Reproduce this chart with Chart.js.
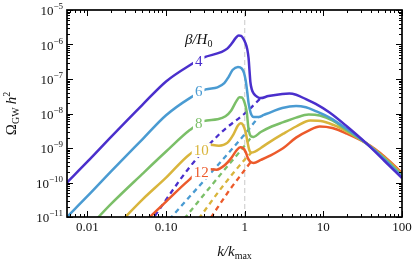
<!DOCTYPE html>
<html>
<head>
<meta charset="utf-8">
<script src="https://cdn.jsdelivr.net/npm/chart.js@4.4.1/dist/chart.umd.min.js"></script>
<style>
  html, body { margin: 0; padding: 0; background: #fff; }
</style>
</head>
<body>
<canvas id="gwChart" width="415" height="262"></canvas>
<script>
// values: k/k_max and Omega_GW h^2
const betaLabels = ['4', '6', '8', '10', '12'];
const lineColors = ['#4a2fcc', '#4a9bd2', '#7bbf68', '#d9b53c', '#ec5a2b'];

// solid curves (full spectrum)
const kBeta4 = [0.0055, 0.01, 0.02, 0.05, 0.1, 0.2, 0.3, 0.5, 0.6, 0.68, 0.77, 0.84, 0.9, 0.96, 1.02, 1.08, 1.12, 1.15, 1.18, 1.23, 1.3, 1.45, 1.6, 2.0, 3.0, 3.7, 4.5, 6, 8, 12, 20, 35, 60, 100];
const omegaBeta4 = [1.0e-10, 4.0e-10, 2.1e-9, 1.78e-8, 8.5e-8, 2.5e-7, 4.2e-7, 6.0e-7, 7.6e-7, 1.05e-6, 1.55e-6, 1.82e-6, 1.78e-6, 1.48e-6, 1.12e-6, 7.1e-7, 4.0e-7, 1.78e-7, 8.3e-8, 5.0e-8, 3.8e-8, 3.0e-8, 2.8e-8, 3.2e-8, 3.7e-8, 3.8e-8, 3.5e-8, 2.6e-8, 1.9e-8, 1.07e-8, 4.2e-9, 1.38e-9, 4.2e-10, 1.35e-10];

const kBeta6 = [0.0055, 0.01, 0.02, 0.05, 0.1, 0.2, 0.32, 0.45, 0.55, 0.62, 0.7, 0.82, 0.92, 0.98, 1.03, 1.08, 1.12, 1.19, 1.3, 1.5, 1.75, 2.2, 3.0, 4.5, 6, 8, 12, 20, 35, 60, 100];
const omegaBeta6 = [1.0e-11, 4.0e-11, 2.1e-10, 1.78e-9, 8.9e-9, 2.8e-8, 5.0e-8, 5.75e-8, 7.6e-8, 1.12e-7, 1.82e-7, 2.24e-7, 2.0e-7, 1.51e-7, 8.9e-8, 4.0e-8, 2.0e-8, 1.05e-8, 7.9e-9, 7.9e-9, 9.1e-9, 1.12e-8, 1.45e-8, 1.66e-8, 1.51e-8, 1.17e-8, 7.6e-9, 3.55e-9, 1.38e-9, 4.7e-10, 1.48e-10];

const kBeta8 = [0.012, 0.02, 0.05, 0.1, 0.2, 0.3, 0.45, 0.57, 0.67, 0.78, 0.86, 0.92, 1.0, 1.06, 1.12, 1.2, 1.3, 1.6, 2.2, 3.1, 4.5, 6.5, 9, 13, 20, 35, 60, 100];
const omegaBeta8 = [7.1e-12, 2.4e-11, 1.78e-10, 7.9e-10, 3.3e-9, 6.0e-9, 6.8e-9, 8.3e-9, 1.2e-8, 2.24e-8, 2.95e-8, 2.9e-8, 2.0e-8, 1.12e-8, 3.5e-9, 2.2e-9, 2.1e-9, 2.9e-9, 4.2e-9, 5.6e-9, 7.6e-9, 9.3e-9, 8.7e-9, 6.3e-9, 3.2e-9, 1.38e-9, 5.0e-10, 1.62e-10];

const kBeta10 = [0.027, 0.05, 0.1, 0.195, 0.33, 0.47, 0.6, 0.72, 0.82, 0.89, 0.95, 1.03, 1.09, 1.14, 1.22, 1.35, 1.6, 2.0, 3.1, 4.5, 6.8, 10, 15, 20, 35, 60, 100];
const omegaBeta10 = [7.6e-12, 3.2e-11, 1.38e-10, 6.3e-10, 1.26e-9, 1.17e-9, 1.41e-9, 2.5e-9, 4.5e-9, 5.2e-9, 4.7e-9, 2.8e-9, 1.41e-9, 8.9e-10, 7.4e-10, 7.9e-10, 1.0e-9, 1.41e-9, 2.6e-9, 4.2e-9, 6.3e-9, 5.9e-9, 4.2e-9, 3.0e-9, 1.38e-9, 5.2e-10, 1.74e-10];

const kBeta12 = [0.056, 0.1, 0.195, 0.3, 0.44, 0.56, 0.67, 0.78, 0.88, 0.95, 1.03, 1.1, 1.19, 1.3, 1.6, 2.1, 3.1, 4.5, 6.5, 9, 13, 20, 35, 60, 100];
const omegaBeta12 = [7.9e-12, 2.8e-11, 1.17e-10, 2.5e-10, 2.35e-10, 3.2e-10, 5.0e-10, 8.3e-10, 1.05e-9, 1.0e-9, 7.6e-10, 5.0e-10, 3.9e-10, 3.7e-10, 4.5e-10, 6.0e-10, 1.0e-9, 2.0e-9, 3.2e-9, 4.2e-9, 3.8e-9, 2.6e-9, 1.38e-9, 5.6e-10, 1.9e-10];

// dashed curves (power-law part)
const kDash4 = [0.062, 0.2, 0.5, 1.0, 1.6];
const omegaDash4 = [6.6e-12, 2.8e-10, 2.8e-9, 1.0e-8, 2.8e-8];
const kDash6 = [0.11, 0.316, 1.0, 1.5];
const omegaDash6 = [8.5e-12, 1.26e-10, 2.5e-9, 7.9e-9];
const kDash8 = [0.17, 0.5, 1.0, 1.22];
const omegaDash8 = [8.9e-12, 1.78e-10, 1.17e-9, 2.1e-9];
const kDash10 = [0.26, 0.55, 1.0, 1.22];
const omegaDash10 = [8.9e-12, 8.9e-11, 4.6e-10, 7.4e-10];
const kDash12 = [0.37, 0.65, 1.0, 1.19];
const omegaDash12 = [9.5e-12, 6.3e-11, 2.3e-10, 3.9e-10];

// where the beta/H0 numbers sit on their curves
const labelK = [0.26, 0.26, 0.26, 0.28, 0.28];
const labelOmega = [3.3e-7, 4.5e-8, 5.2e-9, 8.7e-10, 2.0e-10];

// axes
const xMin = 0.0055, xMax = 100;
const yMin = 1e-11, yMax = 1e-5;
const xTickValues = [0.01, 0.1, 1, 10, 100];
const xTickLabels = ['0.01', '0.10', '1', '10', '100'];
const yTickValues = [1e-5, 1e-6, 1e-7, 1e-8, 1e-9, 1e-10, 1e-11];
const yTickExps = ['\u22125', '\u22126', '\u22127', '\u22128', '\u22129', '\u221210', '\u221211'];

const SERIF = '"Liberation Serif", "DejaVu Serif", serif';

function zip(ks, vs) {
    return ks.map((k, i) => ({ x: k, y: vs[i] }));
}

const solidK = [kBeta4, kBeta6, kBeta8, kBeta10, kBeta12];
const solidOmega = [omegaBeta4, omegaBeta6, omegaBeta8, omegaBeta10, omegaBeta12];
const dashK = [kDash4, kDash6, kDash8, kDash10, kDash12];
const dashOmega = [omegaDash4, omegaDash6, omegaDash8, omegaDash10, omegaDash12];

const datasets = [];
// k = k_max marker
datasets.push({
    data: [{ x: 1, y: yMin }, { x: 1, y: yMax }],
    borderColor: '#d2d2d2',
    borderWidth: 1.2,
    borderDash: [5, 3],
    order: 20
});
betaLabels.forEach((b, i) => {
    datasets.push({
        data: zip(dashK[i], dashOmega[i]),
        borderColor: lineColors[i],
        borderWidth: 2.3,
        borderDash: [5, 4],
        cubicInterpolationMode: 'monotone',
        order: 10 + i
    });
});
betaLabels.forEach((b, i) => {
    datasets.push({
        data: zip(solidK[i], solidOmega[i]),
        borderColor: lineColors[i],
        borderWidth: 2.5,
        cubicInterpolationMode: 'monotone',
        order: i
    });
});

// numbers on the curves, with a white gap behind them
const curveLabels = {
    id: 'curveLabels',
    afterDatasetsDraw(chart) {
        const { ctx, scales: { x, y } } = chart;
        ctx.save();
        ctx.font = '15px ' + SERIF;
        ctx.textAlign = 'center';
        ctx.textBaseline = 'middle';
        betaLabels.forEach((txt, i) => {
            const px = x.getPixelForValue(labelK[i]);
            const py = y.getPixelForValue(labelOmega[i]);
            const w = ctx.measureText(txt).width;
            ctx.fillStyle = '#fff';
            ctx.fillRect(px - w / 2 - 2, py - 7, w + 4, 14);
            ctx.fillStyle = lineColors[i];
            ctx.fillText(txt, px, py + 1);
        });

        // beta/H0 heading
        const hx = x.getPixelForValue(0.26);
        const hy = y.getPixelForValue(1.45e-6);
        ctx.fillStyle = '#111';
        ctx.textBaseline = 'alphabetic';
        ctx.textAlign = 'left';
        ctx.font = 'italic 15px ' + SERIF;
        const main = '\u03b2/H';
        const wMain = ctx.measureText(main).width;
        ctx.font = '10px ' + SERIF;
        const wSub = ctx.measureText('0').width;
        const x0 = hx - (wMain + wSub) / 2;
        ctx.font = 'italic 15px ' + SERIF;
        ctx.fillText(main, x0, hy + 5);
        ctx.font = '10px ' + SERIF;
        ctx.fillText('0', x0 + wMain, hy + 8);
        ctx.restore();
    }
};

// frame, inward ticks on all sides, tick labels and axis titles
const frameAxes = {
    id: 'frameAxes',
    afterDraw(chart) {
        const { ctx, chartArea: a, scales: { x, y } } = chart;
        ctx.save();
        ctx.strokeStyle = '#000';
        ctx.lineWidth = 1;
        ctx.beginPath();
        for (let e = -3; e <= 2; e++) {
            for (let m = 1; m <= 9; m++) {
                const v = m * Math.pow(10, e);
                if (v < xMin * 0.999 || v > xMax * 1.001) continue;
                const px = Math.round(x.getPixelForValue(v)) + 0.5;
                const len = m === 1 ? 6 : 3;
                ctx.moveTo(px, a.bottom); ctx.lineTo(px, a.bottom - len);
                ctx.moveTo(px, a.top); ctx.lineTo(px, a.top + len);
            }
        }
        for (let e = -11; e <= -5; e++) {
            for (let m = 1; m <= 9; m++) {
                const v = m * Math.pow(10, e);
                if (v < yMin * 0.999 || v > yMax * 1.001) continue;
                const py = Math.round(y.getPixelForValue(v)) + 0.5;
                const len = m === 1 ? 6 : 3;
                ctx.moveTo(a.left, py); ctx.lineTo(a.left + len, py);
                ctx.moveTo(a.right, py); ctx.lineTo(a.right - len, py);
            }
        }
        ctx.stroke();
        ctx.lineWidth = 1.7;
        ctx.strokeRect(a.left, a.top, a.right - a.left, a.bottom - a.top);

        ctx.fillStyle = '#111';
        // x tick labels
        ctx.font = '13px ' + SERIF;
        ctx.textAlign = 'center';
        ctx.textBaseline = 'middle';
        xTickValues.forEach((v, i) => {
            ctx.fillText(xTickLabels[i], x.getPixelForValue(v), a.bottom + 11);
        });
        // y tick labels: 10 with superscript exponent
        yTickValues.forEach((v, i) => {
            const py = y.getPixelForValue(v) + 2;
            ctx.font = '9px ' + SERIF;
            const we = ctx.measureText(yTickExps[i]).width;
            ctx.font = '13px ' + SERIF;
            const wb = ctx.measureText('10').width;
            const right = a.left - 4;
            ctx.textAlign = 'left';
            ctx.fillText('10', right - we - wb, py);
            ctx.font = '9px ' + SERIF;
            ctx.fillText(yTickExps[i], right - we, py - 5);
        });

        // x title: k/k_max
        ctx.textBaseline = 'alphabetic';
        ctx.textAlign = 'left';
        ctx.font = 'italic 15px ' + SERIF;
        const t1 = 'k/k';
        const w1 = ctx.measureText(t1).width;
        ctx.font = '10px ' + SERIF;
        const w2 = ctx.measureText('max').width;
        const cx = (a.left + a.right) / 2 - (w1 + w2) / 2;
        ctx.font = 'italic 15px ' + SERIF;
        ctx.fillText(t1, cx, 256);
        ctx.font = '10px ' + SERIF;
        ctx.fillText('max', cx + w1, 259);

        // y title: Omega_GW h^2
        ctx.translate(16, (a.top + a.bottom) / 2);
        ctx.rotate(-Math.PI / 2);
        const parts = [
            { t: '\u03a9', f: '15px ' + SERIF, dy: 0 },
            { t: 'GW', f: '10px ' + SERIF, dy: 3 },
            { t: '\u2009', f: '15px ' + SERIF, dy: 0 },
            { t: 'h', f: 'italic 15px ' + SERIF, dy: 0 },
            { t: '2', f: '10px ' + SERIF, dy: -6 }
        ];
        let total = 0;
        parts.forEach(p => { ctx.font = p.f; p.w = ctx.measureText(p.t).width; total += p.w; });
        let tx = -total / 2;
        parts.forEach(p => { ctx.font = p.f; ctx.fillText(p.t, tx, p.dy); tx += p.w; });
        ctx.restore();
    }
};

new Chart(document.getElementById('gwChart'), {
    type: 'line',
    data: { datasets: datasets },
    options: {
        responsive: false,
        animation: false,
        devicePixelRatio: 1,
        layout: { padding: { left: 67, top: 10, right: 13, bottom: 45 } },
        plugins: {
            legend: { display: false },
            tooltip: { enabled: false }
        },
        elements: { point: { radius: 0 } },
        scales: {
            x: { type: 'logarithmic', min: xMin, max: xMax, display: false },
            y: { type: 'logarithmic', min: yMin, max: yMax, display: false }
        }
    },
    plugins: [curveLabels, frameAxes]
});
</script>
</body>
</html>
